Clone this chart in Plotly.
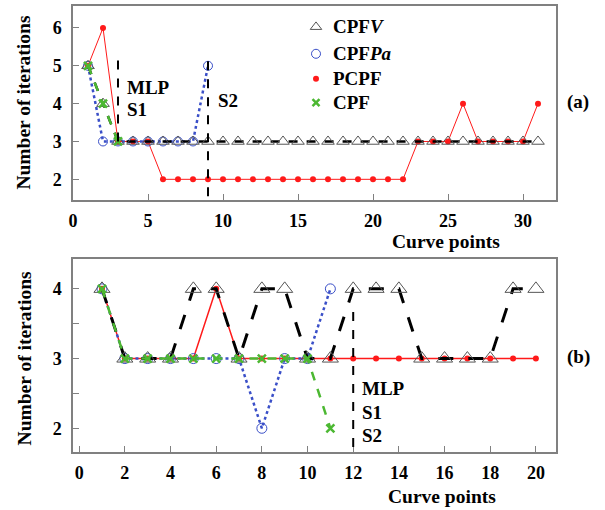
import plotly.graph_objects as go

# ---------------- data: panel (a) ----------------
xa_cpfv = list(range(1, 32))
ya_cpfv = [5, 4] + [3] * 29
xa_cpfpa = list(range(1, 10))
ya_cpfpa = [5, 3, 3, 3, 3, 3, 3, 3, 5]
xa_pcpf = list(range(1, 32))
ya_pcpf = [5, 6, 3, 3, 3] + [2] * 17 + [3, 3, 3, 4, 3, 3, 3, 3, 4]
xa_cpf = [1, 2, 3]
ya_cpf = [5, 4, 3]
a_split_x = [3, 9]
a_split_y0 = [3, 1.55]
a_split_y1 = [5.2, 5.2]

# ---------------- data: panel (b) ----------------
xb_cpfv = list(range(1, 21))
yb_cpfv = [4, 3, 3, 3, 4, 4, 3, 4, 4, 3, 3, 4, 4, 4, 3, 3, 3, 3, 4, 4]
xb_cpfpa = list(range(1, 12))
yb_cpfpa = [4, 3, 3, 3, 3, 3, 3, 2, 3, 3, 4]
xb_pcpf = list(range(1, 21))
yb_pcpf = [4, 3, 3, 3, 3, 4] + [3] * 14
xb_cpf = list(range(1, 12))
yb_cpf = [4, 3, 3, 3, 3, 3, 3, 3, 3, 3, 2]
b_split_x = [12]
b_split_y0 = [1.73]
b_split_y1 = [3.79]

xticks_a = [0, 5, 10, 15, 20, 25, 30]
yticks_a = [2, 3, 4, 5, 6]
xticks_b = [0, 2, 4, 6, 8, 10, 12, 14, 16, 18, 20]
yticks_b = [2, 2.5, 3, 3.5, 4]
yticklabels_b = ["2", "", "3", "", "4"]

legend_names = ["CPF<i>V</i>", "CPF<i>Pa</i>", "PCPF", "CPF"]

FONT = "Liberation Serif"
BLACK = "#000000"
GRAY = "#555555"
BLUE = "#3a4fc8"
RED = "#ff1a1a"
GREEN = "#4cb832"

L, R, T, B = 73, 49, 4, 58
W, H = 605, 510
pw, ph = W - L - R, H - T - B
def px(xp): return (xp - L) / pw
def py(yp): return (H - B - yp) / ph

XR_A = [0, 32.2]
YR_A = [1.45, 6.58]
A_TOP, A_BOT = 4, 199
def ax_x(xp): return XR_A[0] + (xp - L) / pw * (XR_A[1] - XR_A[0])
def ax_y(yp): return YR_A[1] - (yp - A_TOP) / (A_BOT - A_TOP) * (YR_A[1] - YR_A[0])

fig = go.Figure()

def add_panel(xv, yv, xp, yp, xr, yr, xc, yc, xa, ya, big):
    tri = 14 if big else 11
    circ = 10 if big else 9
    fig.add_trace(go.Scatter(x=xr, y=yr, mode="lines+markers", xaxis=xa, yaxis=ya,
                             line=dict(color=RED, width=1.5 if big else 1),
                             marker=dict(symbol="circle", size=6, color=RED),
                             showlegend=False))
    fig.add_trace(go.Scatter(x=xp, y=yp, mode="lines+markers", xaxis=xa, yaxis=ya,
                             line=dict(color=BLUE, width=2.5, dash="dot"),
                             marker=dict(symbol="circle-open", size=circ, color=BLUE, line=dict(width=1)),
                             showlegend=False))
    fig.add_trace(go.Scatter(x=xv, y=yv, mode="lines+markers", xaxis=xa, yaxis=ya,
                             line=dict(color=BLACK, width=3 if big else 2.5, dash="longdash" if big else "dash"),
                             marker=dict(symbol="triangle-up-open", size=tri, color=GRAY, line=dict(width=1)),
                             showlegend=False))
    fig.add_trace(go.Scatter(x=xc, y=yc, mode="lines+markers", xaxis=xa, yaxis=ya,
                             line=dict(color=GREEN, width=2.5, dash="dash"),
                             marker=dict(symbol="x-thin-open", size=8, color=GREEN, line=dict(width=2.5, color=GREEN)),
                             showlegend=False))

add_panel(xa_cpfv, ya_cpfv, xa_cpfpa, ya_cpfpa, xa_pcpf, ya_pcpf, xa_cpf, ya_cpf, "x", "y", False)
add_panel(xb_cpfv, yb_cpfv, xb_cpfpa, yb_cpfpa, xb_pcpf, yb_pcpf, xb_cpf, yb_cpf, "x2", "y2", True)

# hand-placed legend keys (markers only, like the reference)
leg_sym = [("triangle-up-open", GRAY, 10, 1), ("circle-open", BLUE, 9, 1),
           ("circle", RED, 6, 0), ("x-thin-open", GREEN, 7, 2.5)]
leg_rows = [25, 52, 77, 101]
for (sym, col, sz, lw), row in zip(leg_sym, leg_rows):
    fig.add_trace(go.Scatter(x=[ax_x(316)], y=[ax_y(row)], mode="markers", xaxis="x", yaxis="y",
                             marker=dict(symbol=sym, size=sz, color=col, line=dict(width=lw, color=col)),
                             showlegend=False, hoverinfo="skip", cliponaxis=False))

# split lines
for x0, y0, y1 in zip(a_split_x, a_split_y0, a_split_y1):
    fig.add_shape(type="line", xref="x", yref="y", x0=x0, x1=x0, y0=y0, y1=y1,
                  line=dict(color=BLACK, width=2, dash="dash"))
for x0, y0, y1 in zip(b_split_x, b_split_y0, b_split_y1):
    fig.add_shape(type="line", xref="x2", yref="y2", x0=x0, x1=x0, y0=y0, y1=y1,
                  line=dict(color=BLACK, width=2, dash="dash"))

lab = dict(family=FONT, size=19, color=BLACK, weight="bold")
big = dict(family=FONT, size=19.5, color=BLACK, weight="bold")
def ann(text, x, y, xref, yref, xanchor="left", yanchor="middle", font=lab, textangle=0):
    fig.add_annotation(text=text, x=x, y=y, xref=xref, yref=yref, showarrow=False,
                       xanchor=xanchor, yanchor=yanchor, font=font, textangle=textangle)

for name, row in zip(legend_names, leg_rows):
    ann(name, px(331), py(row), "paper", "paper")

ann("MLP", 3.45, 4.42, "x", "y")
ann("S1", 3.45, 3.84, "x", "y")
ann("S2", 9.5, 4.08, "x", "y")
ann("MLP", 12.3, 2.57, "x2", "y2")
ann("S1", 12.3, 2.22, "x2", "y2")
ann("S2", 12.3, 1.9, "x2", "y2")

ann("(a)", px(578), py(100), "paper", "paper", xanchor="center")
ann("(b)", px(578), py(357), "paper", "paper", xanchor="center")
ann("Curve points", px(446), py(241), "paper", "paper", xanchor="center", font=big)
ann("Curve points", px(442), py(497), "paper", "paper", xanchor="center", font=big)
ann("Number of iterations", px(24), py(101), "paper", "paper", xanchor="center", textangle=-90, font=big)
ann("Number of iterations", px(24), py(358), "paper", "paper", xanchor="center", textangle=-90, font=big)

tickfont = dict(family=FONT, size=18, color=BLACK, weight="bold")
axx = dict(showgrid=False, zeroline=False, showline=True, linecolor="#808080", linewidth=1.5,
           mirror=True, ticks="inside", ticklen=6, tickcolor="#808080", tickfont=tickfont,
           ticklabelstandoff=4)
axy = dict(axx, ticklabelstandoff=6)

fig.update_layout(
    width=W, height=H,
    margin=dict(l=L, r=R, t=T, b=B),
    paper_bgcolor="white", plot_bgcolor="white",
    showlegend=False,
    xaxis=dict(domain=[0, 1], anchor="y", range=XR_A, tickvals=xticks_a, **axx),
    yaxis=dict(domain=[py(A_BOT), 1], anchor="x", range=YR_A, tickvals=yticks_a, **axy),
    xaxis2=dict(domain=[0, 1], anchor="y2", range=[-0.27, 20.88], tickvals=xticks_b, **axx),
    yaxis2=dict(domain=[0, py(258)], anchor="x2", range=[1.66, 4.43], tickvals=yticks_b,
                ticktext=yticklabels_b, **axy),
)

fig.write_html("out.html", config={"displayModeBar": False},
               post_script="document.body.style.margin='0';")
